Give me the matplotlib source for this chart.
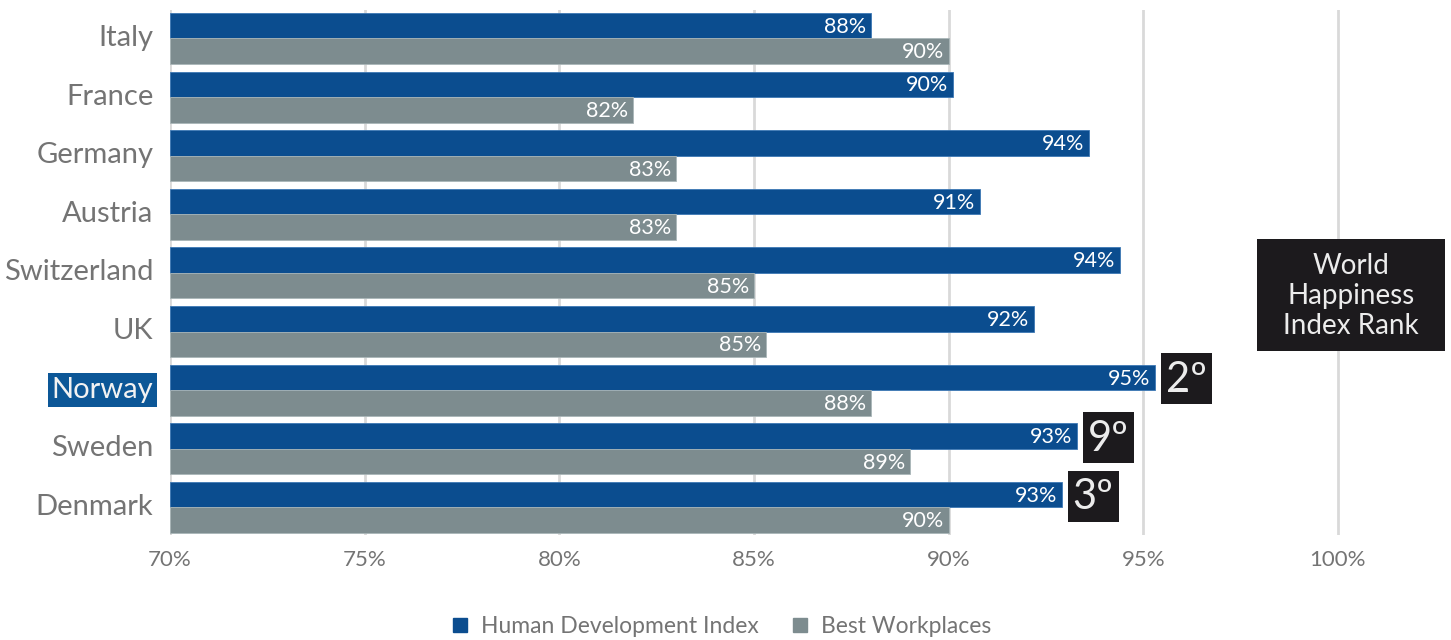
import matplotlib.pyplot as plt
from matplotlib.patches import Rectangle
from matplotlib.lines import Line2D
from matplotlib.transforms import ScaledTranslation

countries = ['Italy', 'France', 'Germany', 'Austria', 'Switzerland', 'UK', 'Norway', 'Sweden', 'Denmark']
hdi = [88.0, 90.1, 93.6, 90.8, 94.4, 92.2, 95.3, 93.3, 92.9]
best_workplaces = [90.0, 81.9, 83.0, 83.0, 85.0, 85.3, 88.0, 89.0, 90.0]
happiness_rank = {'Norway': '2º', 'Sweden': '9º', 'Denmark': '3º'}
x_ticks = [70, 75, 80, 85, 90, 95, 100]

BLUE = '#0b4d8f'
GREY = '#7d8c8f'
DARK = '#1c1a1d'
LIGHT = '#ececec'
TEXT = '#747474'

plt.rcParams['font.family'] = ['Lato', 'DejaVu Sans']

fig = plt.figure(figsize=(14.51, 6.4), dpi=100)
ax = fig.add_axes([170 / 1451, 105 / 640, 1275 / 1451, 525 / 640])

h = 0.435
ys = list(range(len(countries)))
ax.barh([y - h / 2 for y in ys], [v - 70 for v in hdi], left=70, height=h,
        color=BLUE, edgecolor='#3d78b5', linewidth=0.6, zorder=3)
ax.barh([y + h / 2 for y in ys], [v - 70 for v in best_workplaces], left=70, height=h,
        color=GREY, edgecolor='#a9b6b8', linewidth=0.6, zorder=3)

for y, a, b in zip(ys, hdi, best_workplaces):
    ax.text(a - 0.12, y - h / 2 + 0.02, f'{a:.0f}%', ha='right', va='center',
            color='white', fontsize=15.5, zorder=4)
    ax.text(b - 0.12, y + h / 2 + 0.02, f'{b:.0f}%', ha='right', va='center',
            color='white', fontsize=15.5, zorder=4)

# rank badges next to the nordic HDI bars
px = 1 / 38.93
py = 1 / 58.7
for name, rank in happiness_rank.items():
    i = countries.index(name)
    x0 = hdi[i] + 6 * px
    yc = i - h / 2 + 1.5 * py
    ax.add_patch(Rectangle((x0, yc - 25.5 * py), 51 * px, 51 * py,
                           facecolor=DARK, edgecolor='none', zorder=5, clip_on=False))
    ax.text(x0 + 25.5 * px, yc + 1 * py, rank, ha='center', va='center',
            color=LIGHT, fontsize=30, zorder=6)

ax.set_xlim(70, 102.75)
ax.set_ylim(8.47, -0.485)
ax.set_xticks(x_ticks)
ax.set_xticklabels([f'{t}%' for t in x_ticks])
ax.set_yticks(ys)
ax.set_yticklabels(countries)
ax.tick_params(axis='x', length=0, pad=11, labelsize=16, labelcolor=TEXT)
ax.tick_params(axis='y', length=0, pad=12, labelsize=21, labelcolor=TEXT)
ax.grid(axis='x', color='#d9d9d9', linewidth=2, zorder=0)
for s in ax.spines.values():
    s.set_visible(False)

shift = ScaledTranslation(0, 3 / 100, fig.dpi_scale_trans)
for lbl in ax.get_yticklabels():
    lbl.set_transform(lbl.get_transform() + shift)
    if lbl.get_text() == 'Norway':
        lbl.set_color('#f2f2f2')
        lbl.set_bbox(dict(facecolor='#0c5797', edgecolor='none', pad=3))

# side caption box
fig.patches.append(Rectangle((1257 / 1451, 1 - 351 / 640), 188 / 1451, 112 / 640,
                             transform=fig.transFigure, facecolor=DARK, edgecolor='none'))
fig.text(1351 / 1451, 1 - 296 / 640, 'World\nHappiness\nIndex Rank', ha='center', va='center',
         color=LIGHT, fontsize=20, linespacing=1.17)

handles = [Line2D([], [], marker='s', linestyle='none', color=BLUE, markersize=9.5),
           Line2D([], [], marker='s', linestyle='none', color=GREY, markersize=9.5)]
fig.legend(handles, ['Human Development Index', 'Best Workplaces'], loc='center',
           bbox_to_anchor=(0.497, 0.021), ncol=2, frameon=False, fontsize=16.5,
           labelcolor=TEXT, handlelength=0.8, handletextpad=0.5, columnspacing=1.4)

fig.savefig('out.png', dpi=100)
